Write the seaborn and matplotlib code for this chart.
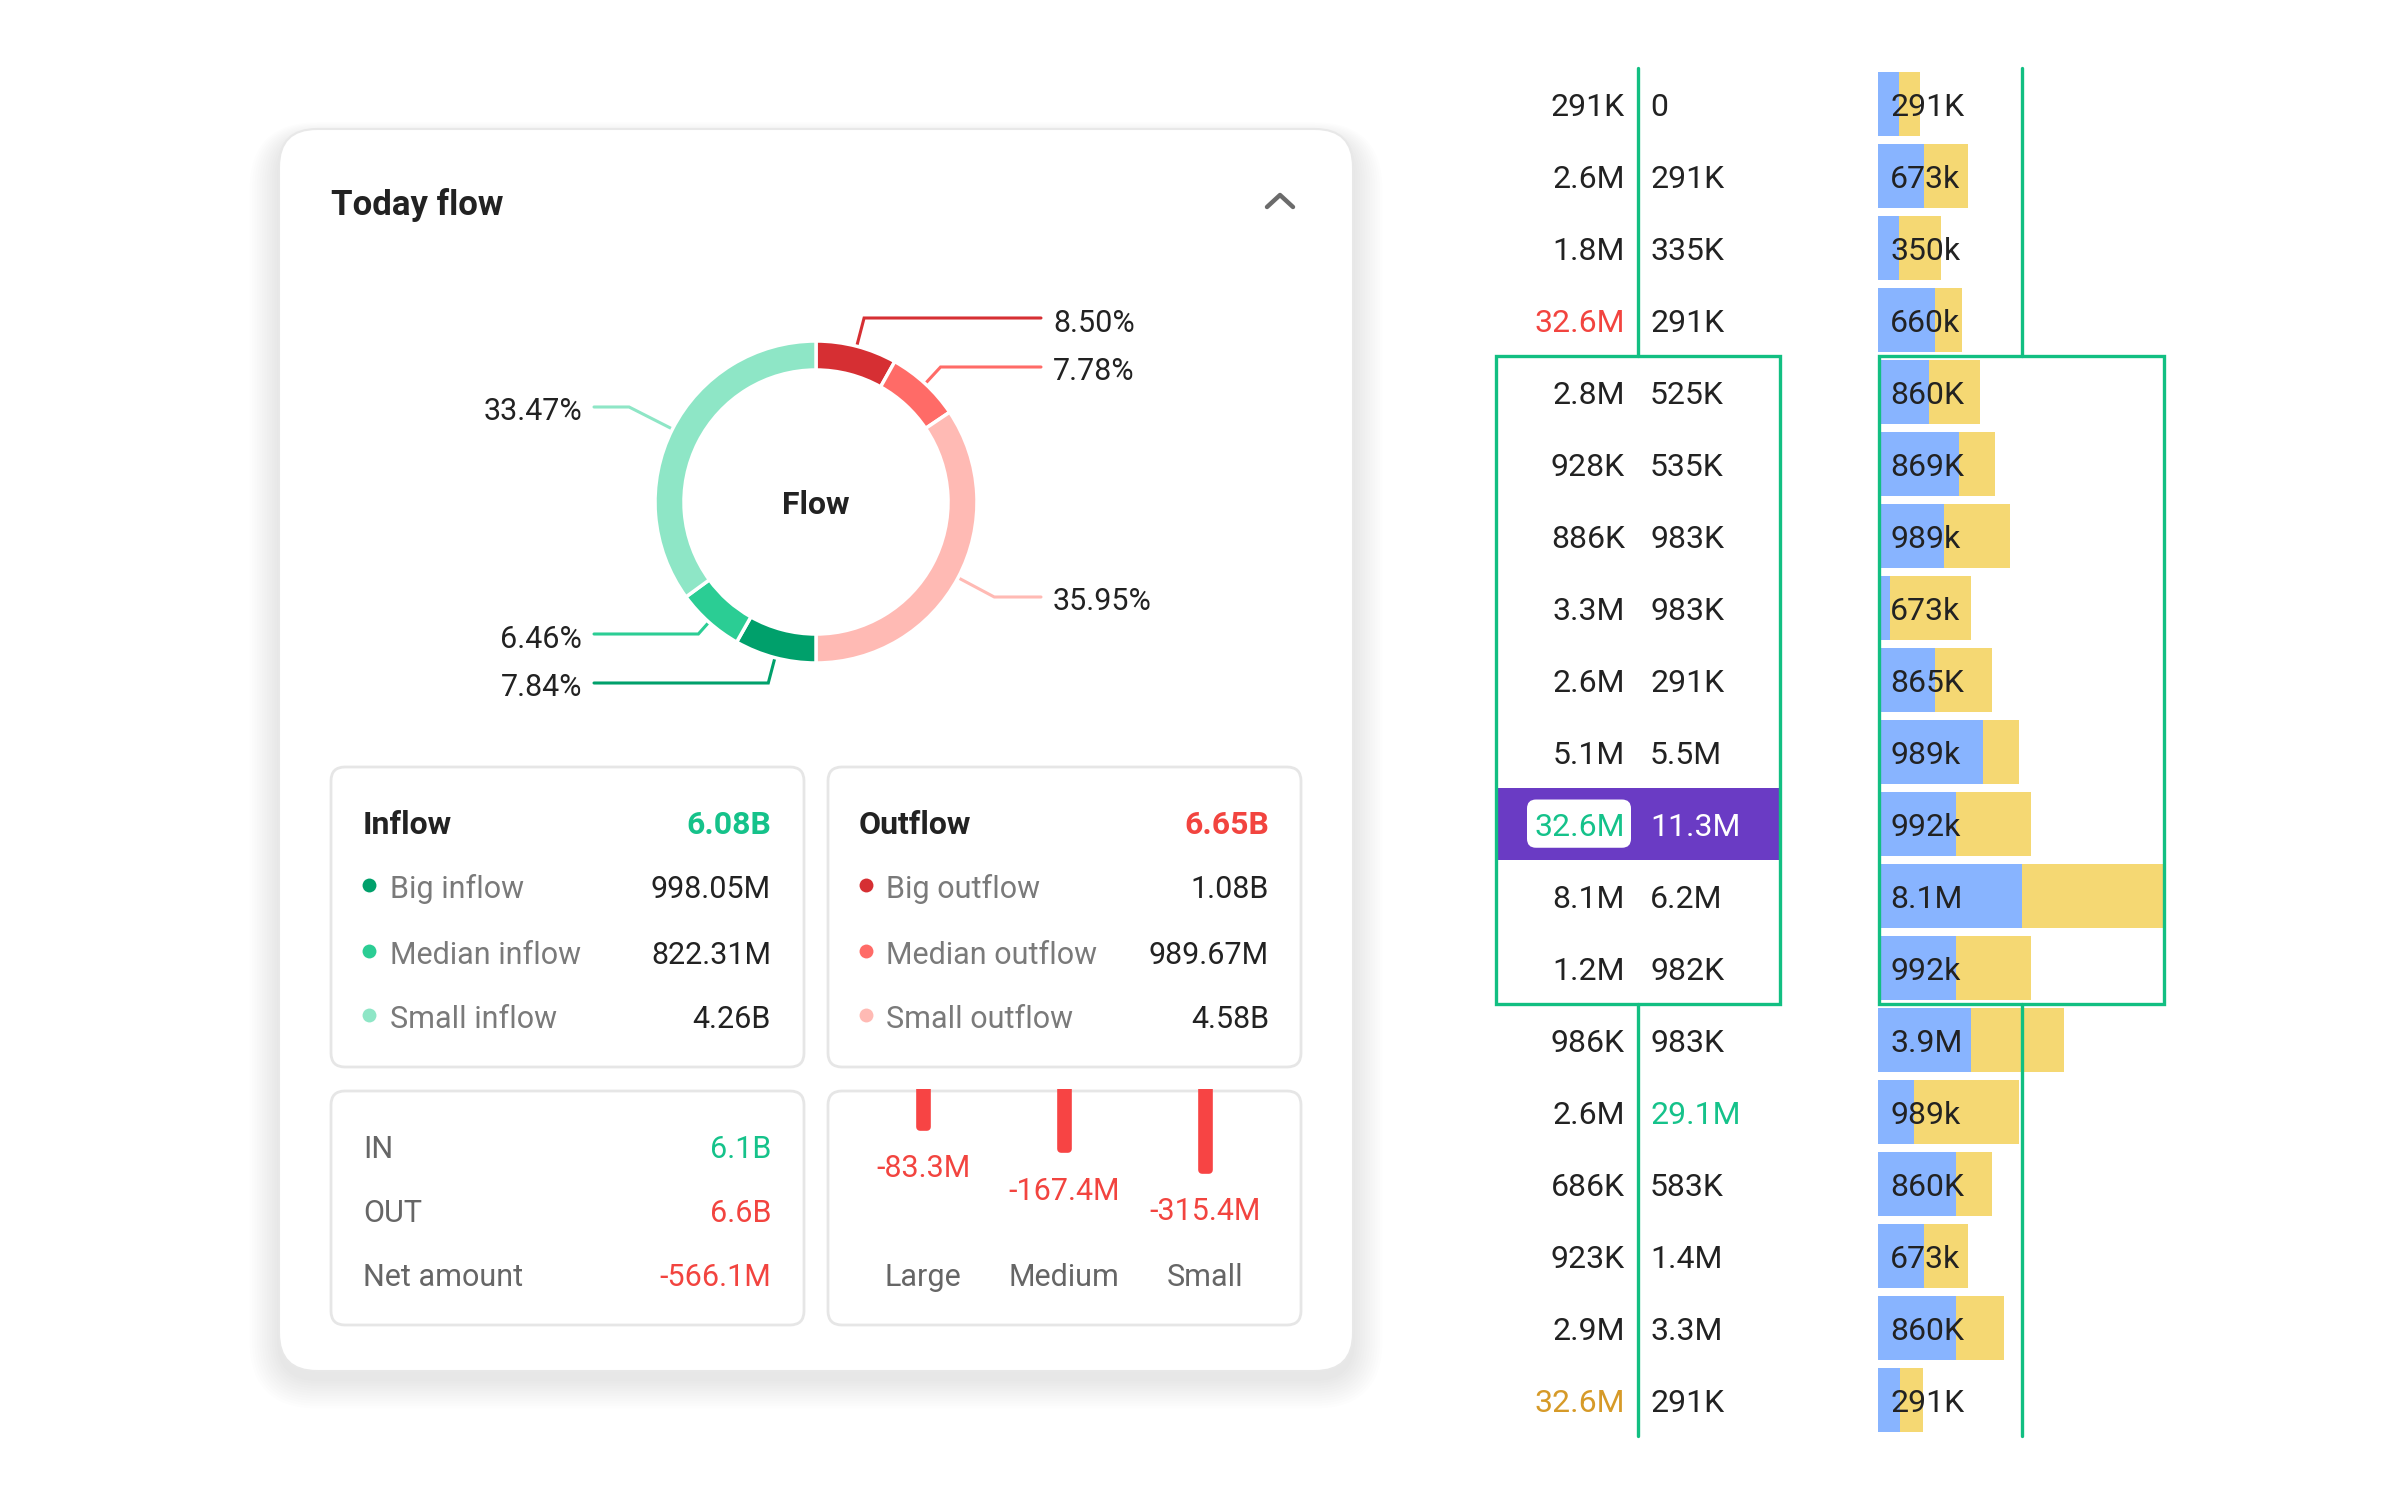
import numpy as np
import pandas as pd
import matplotlib
matplotlib.use('Agg')
import matplotlib.pyplot as plt
import matplotlib.transforms as mtransforms
from matplotlib.patches import FancyBboxPatch, Rectangle
import seaborn as sns

# ---------------- data ----------------
donut_names = ['Big outflow', 'Median outflow', 'Small outflow',
               'Big inflow', 'Median inflow', 'Small inflow']
donut_pct = [8.50, 7.78, 35.95, 7.84, 6.46, 33.47]
donut_side = ['out', 'out', 'out', 'in', 'in', 'in']

inflow_total = '6.08B'
inflow_names = ['Big inflow', 'Median inflow', 'Small inflow']
inflow_values = ['998.05M', '822.31M', '4.26B']
outflow_total = '6.65B'
outflow_names = ['Big outflow', 'Median outflow', 'Small outflow']
outflow_values = ['1.08B', '989.67M', '4.58B']

summary_names = ['IN', 'OUT', 'Net amount']
summary_values = ['6.1B', '6.6B', '-566.1M']

net_cats = ['Large', 'Medium', 'Small']
net_values = [83.3, 167.4, 315.4]          # net outflow (M)
net_labels = ['-83.3M', '-167.4M', '-315.4M']

table_left = ['291K', '2.6M', '1.8M', '32.6M', '2.8M', '928K', '886K', '3.3M', '2.6M',
              '5.1M', '32.6M', '8.1M', '1.2M', '986K', '2.6M', '686K', '923K', '2.9M', '32.6M']
table_right = ['0', '291K', '335K', '291K', '525K', '535K', '983K', '983K', '291K',
               '5.5M', '11.3M', '6.2M', '982K', '983K', '29.1M', '583K', '1.4M', '3.3M', '291K']
bar_blue = [21, 46, 21, 57, 51, 81, 66, 12, 57, 105, 78, 144, 78, 93, 36, 78, 46, 78, 22]
bar_yellow = [21, 44, 42, 27, 51, 36, 66, 81, 57, 36, 75, 141, 75, 93, 105, 36, 44, 48, 23]
bar_labels = ['291K', '673k', '350k', '660k', '860K', '869K', '989k', '673k', '865K', '989k',
              '992k', '8.1M', '992k', '3.9M', '989k', '860K', '673k', '860K', '291K']

# ---------------- style ----------------
sns.set_theme(style='white')
plt.rcParams['font.family'] = ['Roboto', 'DejaVu Sans']

W, H = 2400, 1500
GREEN = '#15c28a'
RED = '#f2443f'
DARK = '#222222'
GRAY = '#7a7a7a'
LINE_GREEN = '#12bf82'
BLUE_BAR = '#88b4ff'
YELLOW_BAR = '#f5d873'
PURPLE = '#6a3bc4'
ORANGE = '#d69a28'
donut_colors = ['#d62f33', '#ff6b67', '#ffbab4', '#00a06b', '#2bcd94', '#8ee6c6']

FS = 22
FS_B = 23
TY = 3          # text baseline nudge in pixels
ROW_PX = 72.0

fig = plt.figure(figsize=(24, 15), dpi=100)
fig.patch.set_facecolor('white')


def add_px_axes(x0, y0, x1, y1):
    """axes placed with pixel bounds (top-left origin)"""
    return fig.add_axes([x0 / W, 1 - y1 / H, (x1 - x0) / W, (y1 - y0) / H])


# background canvas in pixel coordinates
bg = add_px_axes(0, 0, W, H)
bg.set_xlim(0, W)
bg.set_ylim(H, 0)
bg.axis('off')


def rbox(ax, x0, y0, x1, y1, r, fc='white', ec='none', lw=0, alpha=1.0, z=1):
    p = FancyBboxPatch((x0, y0), x1 - x0, y1 - y0,
                       boxstyle=f'round,pad=0,rounding_size={r}',
                       fc=fc, ec=ec, lw=lw, alpha=alpha, zorder=z)
    ax.add_patch(p)
    return p


# card shadow + card
for i in range(12):
    g = 2 + i * 2.5
    rbox(bg, 279 - g, 129 - g * 0.5 + 8, 1353 + g, 1371 + g + 8, 38 + g,
         fc='#000000', alpha=0.006, z=0)
rbox(bg, 279, 129, 1353, 1371, 38, fc='white', ec='#e8e8e8', lw=1.5, z=1)

bg.text(331, 202 + TY, 'Today flow', fontsize=25, fontweight='bold', color=DARK,
        ha='left', va='center', zorder=3)
bg.plot([1267, 1280, 1293], [207, 195, 207], color='#6b6b6b', lw=3.2,
        solid_capstyle='round', solid_joinstyle='round', zorder=3)

# ---------------- donut ----------------
cx, cy, R = 816, 502, 161
axd = add_px_axes(cx - R, cy - R, cx + R, cy + R)
out_sum = sum(p for p, s in zip(donut_pct, donut_side) if s == 'out')
in_sum = sum(p for p, s in zip(donut_pct, donut_side) if s == 'in')
weights = [p / (out_sum if s == 'out' else in_sum) for p, s in zip(donut_pct, donut_side)]
wedges, _ = axd.pie(weights, colors=donut_colors, startangle=90, counterclock=False,
                    radius=1.0, wedgeprops=dict(width=0.18, edgecolor='white', linewidth=2.5))
axd.set_xlim(-1, 1)
axd.set_ylim(-1, 1)
axd.set_facecolor('none')
axd.axis('off')
axd.text(0, -TY / R, 'Flow', fontsize=FS_B, fontweight='bold', color=DARK, ha='center', va='center')

label_line_y = [318, 367, 597, 683, 634, 407]
for w, pct, col, ly in zip(wedges, donut_pct, donut_colors, label_line_y):
    mid = np.deg2rad((w.theta1 + w.theta2) / 2)
    dx, dy = np.cos(mid), -np.sin(mid)
    sx, sy = cx + R * dx, cy + R * dy
    t = (ly - sy) / dy if abs(dy) > 1e-3 else 10
    t = float(np.clip(t, 4, 60))
    ex, ey = sx + t * dx, ly
    right = dx > 0
    endx = 1041 if right else 594
    bg.plot([sx, ex, endx], [sy, ey, ly], color=col, lw=2.2, zorder=3,
            solid_joinstyle='miter')
    if right:
        bg.text(1053, ly + 2 + TY, f'{pct:.2f}%', fontsize=FS, color=DARK, ha='left', va='center', zorder=3)
    else:
        bg.text(582, ly + 2 + TY, f'{pct:.2f}%', fontsize=FS, color=DARK, ha='right', va='center', zorder=3)

# ---------------- inflow / outflow boxes ----------------
BOX_EC = '#e6e6e6'
rbox(bg, 331, 767, 804, 1067, 14, ec=BOX_EC, lw=2, z=2)
rbox(bg, 828, 767, 1301, 1067, 14, ec=BOX_EC, lw=2, z=2)
rbox(bg, 331, 1091, 804, 1325, 14, ec=BOX_EC, lw=2, z=2)
rbox(bg, 828, 1091, 1301, 1325, 14, ec=BOX_EC, lw=2, z=2)

row_y = [886, 952, 1016]
bg.text(363, 822 + TY, 'Inflow', fontsize=FS_B, fontweight='bold', color=DARK, ha='left', va='center', zorder=3)
bg.text(771, 822 + TY, inflow_total, fontsize=FS_B, fontweight='bold', color=GREEN, ha='right', va='center', zorder=3)
bg.text(859, 822 + TY, 'Outflow', fontsize=FS_B, fontweight='bold', color=DARK, ha='left', va='center', zorder=3)
bg.text(1269, 822 + TY, outflow_total, fontsize=FS_B, fontweight='bold', color=RED, ha='right', va='center', zorder=3)
for y, n, v, c in zip(row_y, inflow_names, inflow_values, donut_colors[3:]):
    bg.scatter([369], [y - 1], s=100, color=c, zorder=3, linewidths=0)
    bg.text(390, y + TY, n, fontsize=FS, color=GRAY, ha='left', va='center', zorder=3)
    bg.text(771, y + TY, v, fontsize=FS, color=DARK, ha='right', va='center', zorder=3)
for y, n, v, c in zip(row_y, outflow_names, outflow_values, donut_colors[:3]):
    bg.scatter([866], [y - 1], s=100, color=c, zorder=3, linewidths=0)
    bg.text(886, y + TY, n, fontsize=FS, color=GRAY, ha='left', va='center', zorder=3)
    bg.text(1269, y + TY, v, fontsize=FS, color=DARK, ha='right', va='center', zorder=3)

sum_y = [1146, 1211, 1275]
sum_colors = [GREEN, RED, RED]
for y, n, v, c in zip(sum_y, summary_names, summary_values, sum_colors):
    bg.text(363, y + TY, n, fontsize=FS, color='#666666', ha='left', va='center', zorder=3)
    bg.text(771, y + TY, v, fontsize=FS, color=c, ha='right', va='center', zorder=3)

# ---------------- net bars (log scale, hanging) ----------------
axb = add_px_axes(828, 1089, 1301, 1189)
dfn = pd.DataFrame({'cat': net_cats, 'val': net_values})
sns.barplot(data=dfn, x='cat', y='val', color='#f74444', saturation=1, width=0.05,
            ax=axb, linewidth=5.5, edgecolor='#f74444')
for p in axb.patches:
    p.set_joinstyle('round')
axb.set_yscale('log')
axb.set_ylim(560, 26.4)
axb.set_xlim(-0.674, 2.68)
axb.set_facecolor('none')
axb.axis('off')
for i, (v, lab) in enumerate(zip(net_values, net_labels)):
    axb.annotate(lab, xy=(i, v), xytext=(0, -30), textcoords='offset points',
                 ha='center', va='center', fontsize=FS, color=RED)
blend = mtransforms.blended_transform_factory(axb.transData, bg.transData)
for i, c in enumerate(net_cats):
    axb.text(i, 1275 + TY, c, transform=blend, ha='center', va='center', fontsize=FS, color='#666666')

# ---------------- right table ----------------
NR = len(table_left)
TYR = TY / ROW_PX
axt = add_px_axes(1480, 68, 1800, 1436)
axt.set_xlim(0, 320)
axt.set_ylim(NR - 0.5, -0.5)
axt.set_facecolor('none')
axt.axis('off')

left_colors = [DARK] * NR
left_colors[3] = RED
left_colors[10] = GREEN
left_colors[18] = ORANGE
right_colors = [DARK] * NR
right_colors[10] = 'white'
right_colors[14] = GREEN

axt.add_patch(Rectangle((17, 9.5), 283, 1.0, fc=PURPLE, ec='none', zorder=1))
axt.add_patch(FancyBboxPatch((47, 9.66), 104, 0.67, boxstyle='round,pad=0,rounding_size=9',
                             mutation_aspect=1 / ROW_PX, fc='white', ec='none', zorder=2))
for i in range(NR):
    axt.text(145, i + TYR, table_left[i], fontsize=FS + 1, color=left_colors[i],
             ha='right', va='center', zorder=3)
    axt.text(170, i + TYR, table_right[i], fontsize=FS + 1, color=right_colors[i],
             ha='left', va='center', zorder=3)

# green frame and separators (table)
axt.plot([158, 158], [-0.5, 3.5], color=LINE_GREEN, lw=2.4, zorder=4, clip_on=False)
axt.plot([158, 158], [12.5, NR - 0.5], color=LINE_GREEN, lw=2.4, zorder=4, clip_on=False)
axt.add_patch(Rectangle((16, 3.5), 284, 9.0, fc='none', ec=LINE_GREEN, lw=2.4, zorder=4, clip_on=False))

# ---------------- right bars ----------------
axr = add_px_axes(1878, 68, 2400, 1436)
dfb = pd.DataFrame({'row': list(range(NR)), 'blue': bar_blue,
                    'total': np.add(bar_blue, bar_yellow)})
sns.barplot(data=dfb, x='total', y='row', orient='h', color=YELLOW_BAR, saturation=1,
            width=0.9, ax=axr, linewidth=0)
sns.barplot(data=dfb, x='blue', y='row', orient='h', color=BLUE_BAR, saturation=1,
            width=0.9, ax=axr, linewidth=0)
axr.set_xlim(0, 522)
axr.set_ylim(NR - 0.5, -0.5)
axr.set_facecolor('none')
axr.axis('off')
for i, lab in enumerate(bar_labels):
    axr.text(12, i + TYR, lab, fontsize=FS + 1, color=DARK, ha='left', va='center', zorder=3)
axr.plot([144, 144], [-0.5, 3.5], color=LINE_GREEN, lw=2.4, zorder=5, clip_on=False)
axr.plot([144, 144], [12.5, NR - 0.5], color=LINE_GREEN, lw=2.4, zorder=5, clip_on=False)
axr.add_patch(Rectangle((1, 3.5), 285, 9.0, fc='none', ec=LINE_GREEN, lw=2.4, zorder=5, clip_on=False))

fig.savefig('out.png', dpi=100, facecolor='white')
